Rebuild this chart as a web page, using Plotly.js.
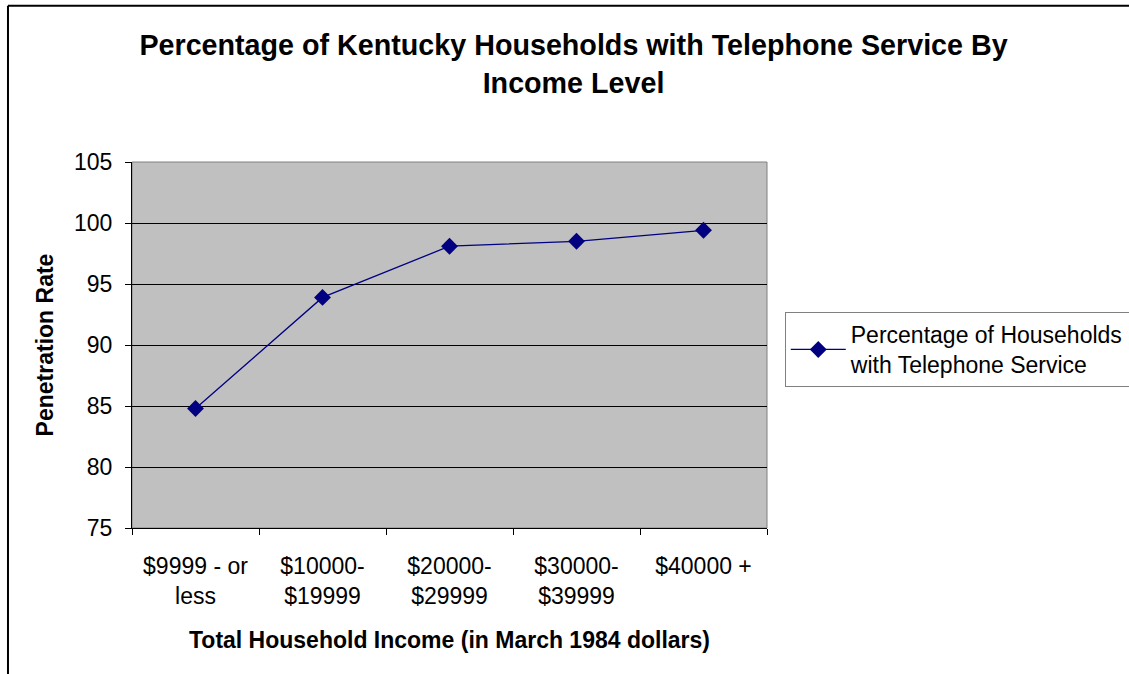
<!DOCTYPE html>
<html>
<head>
<meta charset="utf-8">
<script src="https://cdn.plot.ly/plotly-3.0.1.min.js"></script>
<style>html,body{margin:0;padding:0;background:#fff;}#chart{width:1129px;height:674px;}</style>
</head>
<body>
<div id="chart"></div>
<script>
const categories = ["$9999 - or<br>less", "$10000-<br>$19999", "$20000-<br>$29999", "$30000-<br>$39999", "$40000 +"];
const penetrationRate = [84.8, 93.9, 98.1, 98.5, 99.4];
const seriesName = "Percentage of Households<br>with Telephone Service";
const yTicks = [75, 80, 85, 90, 95, 100, 105];

const font = "Liberation Sans, Arial, sans-serif";

const trace = {
  x: categories,
  y: penetrationRate,
  type: "scatter",
  mode: "lines+markers",
  name: seriesName,
  line: {color: "#000080", width: 1.3},
  marker: {symbol: "diamond", size: 13, color: "#000080"}
};

const layout = {
  width: 1129, height: 674,
  margin: {l: 132, r: 362, t: 162, b: 146, autoexpand: false},
  paper_bgcolor: "#ffffff",
  plot_bgcolor: "#c0c0c0",
  font: {family: font, size: 23, color: "#000"},
  title: {
    text: "<b>Percentage of Kentucky Households with Telephone Service By<br>Income Level</b>",
    font: {family: font, size: 28.7, color: "#000"},
    xref: "container", x: 0.508, xanchor: "center",
    yref: "container", y: 0.918, yanchor: "middle"
  },
  xaxis: {
    type: "category",
    range: [-0.5, 4.5],
    tickson: "boundaries",
    ticks: "outside", ticklen: 6, tickcolor: "#000", tickwidth: 1,
    ticklabelstandoff: 17,
    showline: true, linecolor: "#000", linewidth: 1,
    showgrid: false,
    tickfont: {family: font, size: 23, color: "#000"},
    title: {text: "<b>Total Household Income (in March 1984 dollars)</b>", font: {family: font, size: 23, color: "#000"}, standoff: 24},
    fixedrange: true
  },
  yaxis: {
    range: [75, 105],
    tickvals: yTicks,
    ticks: "outside", ticklen: 6, tickcolor: "#000", tickwidth: 1,
    ticklabelstandoff: 8,
    showline: true, linecolor: "#000", linewidth: 1,
    showgrid: true, gridcolor: "#000", gridwidth: 1,
    zeroline: false,
    tickfont: {family: font, size: 23, color: "#000"},
    title: {text: "<b>Penetration Rate</b>", font: {family: font, size: 23, color: "#000"}, standoff: 13},
    fixedrange: true
  },
  showlegend: true,
  legend: {
    x: 1.028, xanchor: "left", y: 0.59, yanchor: "top",
    bgcolor: "#fff", bordercolor: "#808080", borderwidth: 1,
    itemwidth: 55,
    font: {family: font, size: 23, color: "#000"}
  },
  shapes: [
    {type: "rect", xref: "paper", yref: "paper", x0: 0, x1: 1, y0: 0, y1: 1, line: {color: "#808080", width: 1}, layer: "below"},
    {type: "line", xref: "paper", yref: "paper", x0: -0.1953, x1: -0.1953, y0: 1.427, y1: -0.6, line: {color: "#000", width: 2}},
    {type: "line", xref: "paper", yref: "paper", x0: -0.1953, x1: 1.8, y0: 1.427, y1: 1.427, line: {color: "#000", width: 2}}
  ]
};

Plotly.newPlot("chart", [trace], layout, {displayModeBar: false, staticPlot: true});
</script>
</body>
</html>
